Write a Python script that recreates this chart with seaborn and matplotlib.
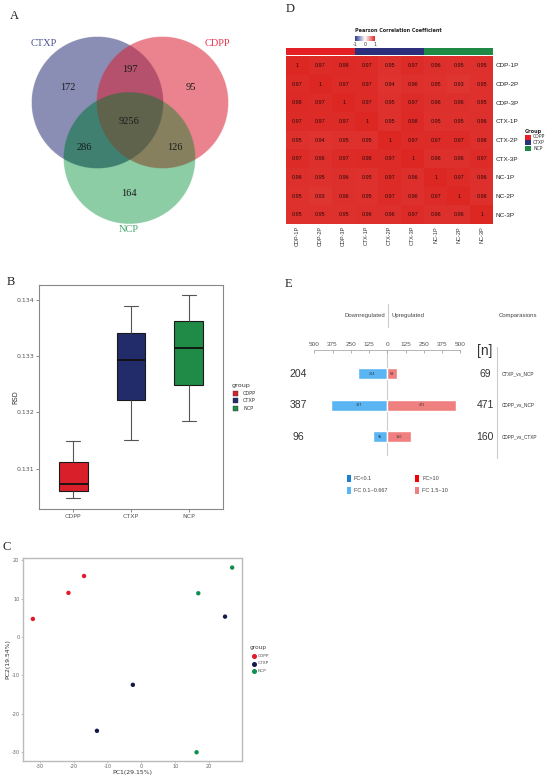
import numpy as np
import pandas as pd
import matplotlib
matplotlib.use("Agg")
import matplotlib.pyplot as plt
import seaborn as sns
from matplotlib.patches import Rectangle
from matplotlib.colors import LinearSegmentedColormap, ListedColormap, to_rgb
from matplotlib.lines import Line2D
import matplotlib.cm as cm
import matplotlib.colors as mcolors

# ---------------- data ----------------
venn_names = ["CTXP", "CDPP", "NCP"]
venn_region_keys = ["CTXP", "CDPP", "NCP", "CTXP&CDPP", "CTXP&NCP", "CDPP&NCP", "ALL"]
venn_region_counts = [172, 95, 164, 197, 286, 126, 9256]

groups = ["CDPP", "CTXP", "NCP"]
rsd_cdpp = [0.13047, 0.13073, 0.13149]
rsd_ctxp = [0.13151, 0.13294, 0.13390]
rsd_ncp = [0.13185, 0.13314, 0.13410]
rsd_ticks = [0.131, 0.132, 0.133, 0.134]

pca_group = ["CDPP", "CDPP", "CDPP", "CTXP", "CTXP", "CTXP", "NCP", "NCP", "NCP"]
pc1 = [-32.0, -21.5, -16.9, -2.5, -13.1, 24.7, 16.8, 26.8, 16.3]
pc2 = [4.7, 11.5, 15.9, -12.5, -24.5, 5.3, 11.4, 18.1, -30.1]
pc_ticks = [-30, -20, -10, 0, 10, 20]

samples = ["CDP-1P", "CDP-2P", "CDP-3P", "CTX-1P", "CTX-2P", "CTX-3P", "NC-1P", "NC-2P", "NC-3P"]
sample_group = ["CDPP"] * 3 + ["CTXP"] * 3 + ["NCP"] * 3
corr_rows = [
    [1, 0.97, 0.98, 0.97, 0.95, 0.97, 0.96, 0.95, 0.95],
    [0.97, 1, 0.97, 0.97, 0.94, 0.96, 0.95, 0.93, 0.95],
    [0.98, 0.97, 1, 0.97, 0.95, 0.97, 0.96, 0.96, 0.95],
    [0.97, 0.97, 0.97, 1, 0.95, 0.98, 0.95, 0.95, 0.96],
    [0.95, 0.94, 0.95, 0.95, 1, 0.97, 0.97, 0.97, 0.96],
    [0.97, 0.96, 0.97, 0.98, 0.97, 1, 0.96, 0.96, 0.97],
    [0.96, 0.95, 0.96, 0.95, 0.97, 0.96, 1, 0.97, 0.96],
    [0.95, 0.93, 0.96, 0.95, 0.97, 0.96, 0.97, 1, 0.96],
    [0.95, 0.95, 0.95, 0.96, 0.96, 0.97, 0.96, 0.96, 1],
]

comparisons = ["CTXP_vs_NCP", "CDPP_vs_NCP", "CDPP_vs_CTXP"]
down_counts = [204, 387, 96]
up_counts = [69, 471, 160]
de_ticks = [-500, -375, -250, -125, 0, 125, 250, 375, 500]
fc_legend = ["FC<0.1", "FC 0.1~0.667", "FC>10", "FC 1.5~10"]

# ---------------- styling ----------------
W, H = 550, 778
sns.set_theme(style="white")
plt.rcParams["font.family"] = ["DejaVu Sans"]
plt.rcParams["axes.unicode_minus"] = False
SERIF = ["Liberation Serif", "DejaVu Serif"]
SANS = ["Liberation Sans", "DejaVu Sans"]
NARROW = ["Liberation Sans Narrow", "Liberation Sans", "DejaVu Sans"]

grp_colors = {"CDPP": "#d81f2a", "CTXP": "#232c6a", "NCP": "#1f8b47"}
pca_colors = {"CDPP": "#e41a2a", "CTXP": "#13194a", "NCP": "#0f8f4f"}
venn_region_colors = {"CTXP": "#8a8db4", "CDPP": "#ea838d", "NCP": "#8ccda5",
                      "CTXP&CDPP": "#b5516d", "CTXP&NCP": "#3f8171", "CDPP&NCP": "#88815f",
                      "ALL": "#5f634c"}
venn_text_colors = {"CTXP": "#4b5190", "CDPP": "#e8324f", "NCP": "#3fa86b"}

fig = plt.figure(figsize=(W / 100, H / 100), dpi=100)
fig.patch.set_facecolor("white")


def px_axes(l, t, r, b):
    return fig.add_axes([l / W, 1 - b / H, (r - l) / W, (b - t) / H])


def ftext(x, y, s, **kw):
    kw.setdefault("ha", "center")
    kw.setdefault("va", "center")
    return fig.text(x / W, 1 - y / H, s, **kw)


def fline(xs, ys, **kw):
    fig.add_artist(Line2D([x / W for x in xs], [1 - y / H for y in ys], **kw))


# panel letters
for letter, (x, y) in zip("ABCDE", [(14, 16), (11, 282), (7, 547), (290, 9), (288, 284)]):
    ftext(x, y, letter, family=SERIF, fontsize=9, color="#222222")

# ---------------- A: Venn ----------------
axA = px_axes(0, 0, 275, 280)
centers = {"CTXP": (97.5, 102.5), "CDPP": (162.5, 102.5), "NCP": (129.5, 158.0)}
R = 65.8
ss = 4
gx, gy = np.meshgrid((np.arange(275 * ss) + 0.5) / ss, (np.arange(280 * ss) + 0.5) / ss)
inside = {n: (gx - centers[n][0]) ** 2 + (gy - centers[n][1]) ** 2 <= R ** 2 for n in venn_names}
img = np.ones((280 * ss, 275 * ss, 3))
region_masks = {
    "CTXP": inside["CTXP"] & ~inside["CDPP"] & ~inside["NCP"],
    "CDPP": inside["CDPP"] & ~inside["CTXP"] & ~inside["NCP"],
    "NCP": inside["NCP"] & ~inside["CTXP"] & ~inside["CDPP"],
    "CTXP&CDPP": inside["CTXP"] & inside["CDPP"] & ~inside["NCP"],
    "CTXP&NCP": inside["CTXP"] & inside["NCP"] & ~inside["CDPP"],
    "CDPP&NCP": inside["CDPP"] & inside["NCP"] & ~inside["CTXP"],
    "ALL": inside["CTXP"] & inside["CDPP"] & inside["NCP"],
}
for k in venn_region_keys:
    img[region_masks[k]] = to_rgb(venn_region_colors[k])
axA.imshow(img, extent=(0, 275, 280, 0), interpolation="antialiased", aspect="auto")
axA.set_xlim(0, 275)
axA.set_ylim(280, 0)
axA.axis("off")
label_pos = {"CTXP": (44, 43), "CDPP": (217, 43), "NCP": (129, 230)}
for name in venn_names:
    axA.text(*label_pos[name], name, family=SERIF, fontsize=7.5, color=venn_text_colors[name],
             ha="center", va="center")
region_pos = {"CTXP": (68, 87), "CDPP": (191, 87), "NCP": (129, 193), "CTXP&CDPP": (130, 69),
              "CTXP&NCP": (84, 147), "CDPP&NCP": (175, 147), "ALL": (129, 122)}
for k, c in zip(venn_region_keys, venn_region_counts):
    axA.text(*region_pos[k], str(c), family=SERIF, fontsize=7.5, color="#1a1a1a", ha="center", va="center")

# ---------------- B: Boxplot ----------------
axB = px_axes(39, 285, 223, 509)
df_rsd = pd.DataFrame({
    "group": ["CDPP"] * len(rsd_cdpp) + ["CTXP"] * len(rsd_ctxp) + ["NCP"] * len(rsd_ncp),
    "RSD": rsd_cdpp + rsd_ctxp + rsd_ncp,
})
sns.boxplot(data=df_rsd, x="group", y="RSD", hue="group", palette=grp_colors, order=groups,
            width=0.5, linewidth=0.8, linecolor="#1a1a1a", ax=axB, legend=False, saturation=1,
            whiskerprops=dict(color="#555555", linewidth=0.8),
            capprops=dict(color="#555555", linewidth=0.8),
            medianprops=dict(color="#111111", linewidth=1.3),
            boxprops=dict(edgecolor="#1a1a1a"))
axB.set_xlim(-0.59, 2.59)
axB.set_ylim(0.13028, 0.13427)
axB.set_yticks(rsd_ticks)
axB.set_yticklabels([f"{t:.3f}" for t in rsd_ticks])
axB.set_xlabel("")
axB.set_ylabel("")
axB.tick_params(axis="both", labelsize=4.5, labelcolor="#555555", color="#777777",
                length=2, width=0.6, left=True, bottom=True, pad=1.5)
for s in axB.spines.values():
    s.set_color("#888888")
    s.set_linewidth(0.8)
ftext(15, 397, "RSD", rotation=90, fontsize=4.8, color="#333333")
ftext(232, 385.5, "group", fontsize=4.6, color="#333333", ha="left")
for g, yy in zip(groups, [393, 400.5, 408]):
    fig.add_artist(Rectangle(((233) / W, 1 - (yy + 2.5) / H), 5 / W, 5 / H,
                             facecolor=grp_colors[g], edgecolor="#333333", linewidth=0.3))
    ftext(243, yy, g, fontsize=3.6, color="#333333", ha="left")

# ---------------- C: PCA ----------------
axC = px_axes(22.7, 558, 242, 760.7)
df_pca = pd.DataFrame({"PC1": pc1, "PC2": pc2, "group": pca_group})
sns.scatterplot(data=df_pca, x="PC1", y="PC2", hue="group", palette=pca_colors, s=10,
                edgecolor="none", ax=axC, legend=False)
axC.set_xlim(-35.0, 29.7)
axC.set_ylim(-32.3, 20.6)
axC.set_xticks(pc_ticks)
axC.set_yticks([20, 10, 0, -10, -20, -30])
axC.set_xlabel("")
axC.set_ylabel("")
axC.tick_params(axis="both", labelsize=3.6, labelcolor="#666666", color="#aaaaaa",
                length=1.5, width=0.5, left=True, bottom=True, pad=0.8)
for s in axC.spines.values():
    s.set_color("#bbbbbb")
    s.set_linewidth(1.0)
ftext(132, 772.5, "PC1(29.15%)", fontsize=4.4, color="#333333")
ftext(7.5, 659, "PC2(19.54%)", rotation=90, fontsize=4.4, color="#333333")
ftext(250, 648, "group", fontsize=4.2, color="#444444", ha="left")
for g, yy in zip(groups, [656, 663.5, 671]):
    fig.add_artist(Line2D([253.5 / W], [1 - yy / H], marker="o", markersize=2.6,
                          color=pca_colors[g], linestyle="none"))
    ftext(258, yy, g, fontsize=3.2, color="#555555", ha="left")

# ---------------- D: heatmap ----------------
corr = pd.DataFrame(corr_rows, index=samples, columns=samples)
cmap_corr = LinearSegmentedColormap.from_list("corr", ["#2b3a8c", "#ffffff", "#dc2723"])
axD = px_axes(286, 56, 493.3, 224)
annot = np.array([[f"{v:g}" for v in row] for row in corr_rows])
sns.heatmap(corr, ax=axD, cmap=cmap_corr, vmin=-1, vmax=1, cbar=False, annot=annot, fmt="",
            annot_kws=dict(fontsize=3.9, color="#2a0a0a", family=SANS), linewidths=0)
axD.yaxis.tick_right()
axD.set_yticks(np.arange(len(samples)) + 0.5)
axD.set_yticklabels(samples, rotation=0, fontsize=4.6, color="#222222", family=SANS)
axD.set_xticklabels(samples, rotation=90, fontsize=4.0, color="#333333", family=SANS)
axD.tick_params(axis="both", length=0, pad=1.5)
axD.set_xlabel("")
axD.set_ylabel("")

axDbar = px_axes(286, 48.3, 493.3, 55)
codes = np.array([[groups.index(g) for g in sample_group]])
sns.heatmap(codes, ax=axDbar, cmap=ListedColormap(["#e41f26", "#2b2f7c", "#1f8a45"]),
            cbar=False, xticklabels=False, yticklabels=False, vmin=-0.5, vmax=2.5)

axCb = px_axes(355, 36, 375, 40.7)
cb = fig.colorbar(cm.ScalarMappable(norm=mcolors.Normalize(-1, 1), cmap=cmap_corr),
                  cax=axCb, orientation="horizontal")
cb.outline.set_visible(False)
cb.set_ticks([-1, 0, 1])
cb.ax.tick_params(labelsize=3.4, length=0, pad=0.8, labelcolor="#333333")
ftext(355, 31, "Pearson Correlation Coefficient", fontsize=3.5, weight="bold", ha="left", color="#222222")
ftext(525, 131, "Group", fontsize=3.6, weight="bold", ha="left", color="#222222")
for g, yy, c in zip(groups, [137, 142.7, 148.4], ["#e41f26", "#2b2f7c", "#1f8a45"]):
    fig.add_artist(Rectangle((525 / W, 1 - (yy + 2.5) / H), 6 / W, 5 / H, facecolor=c, edgecolor="none"))
    ftext(533, yy, g, fontsize=3.3, color="#333333", ha="left")

# ---------------- E: differential bars ----------------
LIGHT_BLUE, LIGHT_RED, DARK_BLUE, RED = "#5bb5f2", "#f07f80", "#1e7fd0", "#f50000"
axE = px_axes(314.3, 350, 460.3, 456)
df_de = pd.DataFrame({"comparison": comparisons,
                      "down": [-v for v in down_counts], "up": up_counts})
sns.barplot(data=df_de, y="comparison", x="down", color=LIGHT_BLUE, orient="h", width=0.36,
            ax=axE, saturation=1, order=comparisons)
sns.barplot(data=df_de, y="comparison", x="up", color=LIGHT_RED, orient="h", width=0.36,
            ax=axE, saturation=1, order=comparisons)
axE.set_xlim(-500, 500)
axE.set_ylim(2.61, -0.75)
axE.axvline(0, color="#cccccc", linewidth=0.8, zorder=0)
axE.xaxis.tick_top()
axE.set_xticks(de_ticks)
axE.set_xticklabels([str(abs(t)) for t in de_ticks], family=NARROW)
axE.tick_params(axis="x", direction="in", length=2, width=0.5, color="#999999",
                labelsize=4.6, labelcolor="#555555", pad=2, top=True)
axE.set_yticks([])
axE.set_xlabel("")
axE.set_ylabel("")
for k, s in axE.spines.items():
    s.set_visible(k == "top")
axE.spines["top"].set_color("#aaaaaa")
axE.spines["top"].set_linewidth(0.6)
for i, (d, u) in enumerate(zip(down_counts, up_counts)):
    axE.text(-d / 2, i, str(d), fontsize=2.4, color="#333333", ha="center", va="center")
    axE.text(u / 2, i, str(u), fontsize=2.4, color="#333333", ha="center", va="center")
    yy = [373.7, 405.2, 436.7][i]
    ftext(298, yy, str(d), family=NARROW, fontsize=7.5, color="#333333")
    ftext(485, yy, str(u), family=NARROW, fontsize=7.5, color="#333333")
    ftext(501.5, yy, comparisons[i], family=NARROW, fontsize=3.4, color="#333333", ha="left")

ftext(385, 316, "Downregulated", family=NARROW, fontsize=4.3, color="#444444", ha="right")
ftext(392, 316, "Upregulated", family=NARROW, fontsize=4.3, color="#444444", ha="left")
ftext(518, 316, "Comparasions", family=NARROW, fontsize=4.3, color="#444444")
ftext(485, 351, "[n]", family=NARROW, fontsize=10, color="#333333")
fline([388.0, 388.0], [304, 327], color="#cccccc", linewidth=0.8)
fline([496.7, 496.7], [346.7, 458], color="#cccccc", linewidth=0.8)

leg_items = [(349, 478.7, DARK_BLUE, fc_legend[0]), (349, 490.7, LIGHT_BLUE, fc_legend[1]),
             (417.3, 478.7, RED, fc_legend[2]), (417.3, 490.7, LIGHT_RED, fc_legend[3])]
for x, y, c, t in leg_items:
    fig.add_artist(Rectangle(((x - 2) / W, 1 - (y + 3.5) / H), 4 / W, 7 / H, facecolor=c, edgecolor="none"))
    ftext(x + 5, y, t, family=NARROW, fontsize=4, color="#444444", ha="left")

fig.savefig("out.png", dpi=100, facecolor="white")
